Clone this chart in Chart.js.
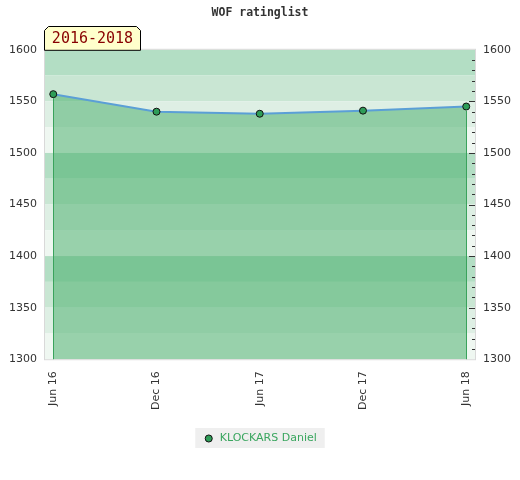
<!DOCTYPE html>
<html>
<head>
<meta charset="utf-8">
<title>WOF ratinglist</title>
<script src="https://cdn.jsdelivr.net/npm/chart.js@4"></script>
<style>
  html, body { margin: 0; padding: 0; background: #fff; }
  #wrap { width: 520px; height: 480px; }
</style>
</head>
<body>
<div id="wrap"><canvas id="ratingChart"></canvas></div>
<script>
// data
const periods = ['Jun 16', 'Dec 16', 'Jun 17', 'Dec 17', 'Jun 18'];
const ratings = [1557, 1540, 1538, 1541, 1545];
const yTicks = [1300, 1350, 1400, 1450, 1500, 1550, 1600];
const playerName = 'KLOCKARS Daniel';
const periodLabel = '2016-2018';
const chartTitle = 'WOF ratinglist';

// band colours, top to bottom inside each hundred
const bandShades = ['#b3dec4', '#c9e6d3', '#deefe4', '#eff7f1'];

Chart.defaults.font.family = "'DejaVu Sans', sans-serif";
Chart.defaults.font.size = 11;
Chart.defaults.color = '#333';

// striped background + plot frame
const bandsPlugin = {
  id: 'bands',
  beforeDatasetsDraw(chart) {
    const { ctx, chartArea: a, scales: { y } } = chart;
    ctx.save();
    for (let v = y.max; v > y.min; v -= 25) {
      const idx = ((Math.ceil(v / 100) * 100 - v) / 25) % 4;
      const top = y.getPixelForValue(v);
      const bottom = y.getPixelForValue(v - 25);
      ctx.fillStyle = bandShades[idx];
      ctx.fillRect(a.left, top, a.right - a.left, bottom - top);
    }
    ctx.strokeStyle = '#d9d9d9';
    ctx.lineWidth = 1;
    ctx.strokeRect(a.left - 0.5, a.top - 0.5, a.right - a.left + 1, a.bottom - a.top + 1);
    ctx.restore();
  }
};

// green drop lines at the first and last point, small ticks on the right
const extrasPlugin = {
  id: 'extras',
  afterDatasetsDraw(chart) {
    const { ctx, chartArea: a, scales: { y } } = chart;
    const pts = chart.getDatasetMeta(0).data;
    ctx.save();
    ctx.strokeStyle = '#3aa35c';
    ctx.lineWidth = 1;
    [pts[0], pts[pts.length - 1]].forEach(p => {
      const x = Math.round(p.x) + 0.5;
      ctx.beginPath();
      ctx.moveTo(x, p.y + 4);
      ctx.lineTo(x, a.bottom);
      ctx.stroke();
    });
    ctx.strokeStyle = '#333';
    for (let v = y.min + 10; v < y.max; v += 10) {
      const py = Math.round(y.getPixelForValue(v)) + 0.5;
      const len = v % 50 === 0 ? 6 : 3;
      ctx.beginPath();
      ctx.moveTo(a.right - len, py);
      ctx.lineTo(a.right, py);
      ctx.stroke();
    }
    ctx.restore();
  },
  afterDraw(chart) {
    // period tag above the plot
    const { ctx, chartArea: a } = chart;
    const l = a.left - 0.5, r = a.left + 95.5, t = 26.5, b = a.top + 0.5, c = 4;
    ctx.save();
    ctx.beginPath();
    ctx.moveTo(l, b);
    ctx.lineTo(l, t + c);
    ctx.lineTo(l + c, t);
    ctx.lineTo(r - c, t);
    ctx.lineTo(r, t + c);
    ctx.lineTo(r, b);
    ctx.closePath();
    ctx.fillStyle = '#ffffcc';
    ctx.fill();
    ctx.strokeStyle = '#000';
    ctx.lineWidth = 1;
    ctx.stroke();
    ctx.fillStyle = '#880000';
    ctx.font = "15px 'DejaVu Sans Mono', monospace";
    ctx.textAlign = 'center';
    ctx.textBaseline = 'middle';
    ctx.fillText(periodLabel, (l + r) / 2, (t + b) / 2 + 1);
    ctx.restore();
  }
};

// grey box behind the legend item
const legendBoxPlugin = {
  id: 'legendBox',
  beforeDraw(chart) {
    const hb = chart.legend && chart.legend.legendHitBoxes && chart.legend.legendHitBoxes[0];
    if (!hb) return;
    const { ctx } = chart;
    ctx.save();
    ctx.fillStyle = '#efefef';
    ctx.fillRect(hb.left - 8, hb.top + hb.height / 2 - 10.5, hb.width + 16, 20);
    ctx.restore();
  }
};

const points = ratings.map((v, i) => ({ x: i, y: v }));

new Chart(document.getElementById('ratingChart'), {
  type: 'line',
  data: {
    datasets: [{
      label: playerName,
      data: points,
      borderColor: '#5b9fd6',
      borderWidth: 2,
      backgroundColor: 'rgba(66, 172, 101, 0.5)',
      fill: 'start',
      tension: 0,
      pointRadius: 3.5,
      pointHoverRadius: 3.5,
      pointBackgroundColor: '#2e9d58',
      pointBorderColor: '#111',
      pointBorderWidth: 1
    }]
  },
  options: {
    responsive: true,
    maintainAspectRatio: false,
    animation: false,
    layout: { padding: { left: 0, right: 0, top: 0, bottom: 26 } },
    plugins: {
      title: {
        display: true,
        text: chartTitle,
        color: '#333',
        font: { family: "'DejaVu Sans Mono', monospace", size: 11.5, weight: 'bold' },
        padding: { top: 6, bottom: 30 }
      },
      legend: {
        position: 'bottom',
        labels: {
          usePointStyle: true,
          pointStyle: 'circle',
          boxHeight: 5,
          color: '#3aa65f',
          padding: 11,
          font: { size: 11 }
        }
      },
      tooltip: { enabled: false }
    },
    scales: {
      x: {
        type: 'linear',
        min: -0.08,
        max: periods.length - 1 + 0.085,
        grid: { display: false, drawTicks: false },
        border: { display: false },
        afterBuildTicks(scale) {
          scale.ticks = periods.map((_, i) => ({ value: i }));
        },
        ticks: {
          autoSkip: false,
          minRotation: 90,
          maxRotation: 90,
          padding: 12,
          callback: v => periods[v]
        }
      },
      y: {
        position: 'left',
        min: yTicks[0],
        max: yTicks[yTicks.length - 1],
        grid: { display: false, drawTicks: false },
        border: { display: false },
        afterFit(scale) { scale.width = 45; },
        ticks: { stepSize: 50, padding: 8, callback: v => String(v) }
      },
      y2: {
        position: 'right',
        min: yTicks[0],
        max: yTicks[yTicks.length - 1],
        grid: { display: false, drawTicks: false },
        border: { display: false },
        afterFit(scale) { scale.width = 45; },
        ticks: { stepSize: 50, padding: 8, callback: v => String(v) }
      }
    }
  },
  plugins: [bandsPlugin, extrasPlugin, legendBoxPlugin]
});
</script>
</body>
</html>
